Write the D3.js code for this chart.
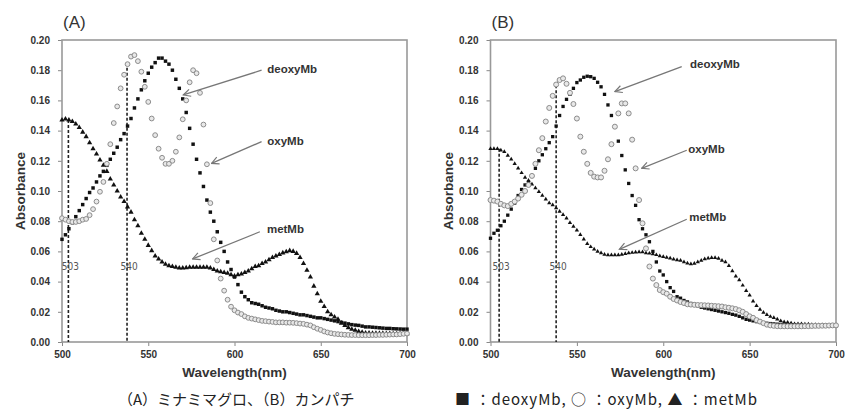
<!DOCTYPE html>
<html><head><meta charset="utf-8">
<script src="https://cdn.jsdelivr.net/npm/d3@7"></script>
<style>body{margin:0;background:#fff}svg{display:block}</style>
</head><body><svg id="c" width="845" height="416"></svg>
<script>
const wavelength = [500,502,504,506,508,510,512,514,516,518,520,522,524,526,528,530,532,534,536,538,
540,542,544,546,548,550,552,554,556,558,560,562,564,566,568,570,572,574,576,578,
580,582,584,586,588,590,592,594,596,598,600,602,604,606,608,610,612,614,616,618,
620,622,624,626,628,630,632,634,636,638,640,642,644,646,648,650,652,654,656,658,
660,662,664,666,668,670,672,674,676,678,680,682,684,686,688,690,692,694,696,698,700];

// Panel A (ミナミマグロ)
const deoxyA = [.068,.071,.075,.079,.083,.087,.091,.095,.099,.102,.106,.110,.113,.117,.121,.125,.129,.134,.138,.143,
.148,.155,.161,.167,.173,.178,.182,.185,.188,.188,.186,.184,.180,.174,.168,.161,.152,.1415,.131,.121,
.112,.103,.094,.086,.080,.073,.066,.060,.053,.048,.043,.038,.033,.030,.028,.026,.0255,.025,.024,.023,
.0225,.022,.021,.0205,.020,.020,.0195,.019,.0185,.018,.018,.0175,.017,.0165,.016,.016,.0155,.015,.0145,.014,
.0135,.013,.0125,.012,.0115,.0112,.011,.0105,.010,.010,.0098,.0096,.0094,.0092,.009,.009,.0088,.0087,.0086,.0085,.0085];
const oxyA = [.082,.081,.080,.0795,.0795,.080,.081,.0815,.084,.088,.093,.0995,.106,.118,.131,.145,.156,.168,.177,.184,
.189,.190,.186,.179,.169,.159,.148,.137,.128,.122,.118,.118,.120,.126,.1355,.1475,.160,.172,.180,.178,
.165,.144,.1177,.092,.068,.054,.042,.034,.028,.0234,.021,.0195,.0185,.017,.016,.0155,.015,.0145,.014,.0138,
.0135,.0133,.013,.013,.013,.0128,.0128,.0127,.0125,.0122,.012,.0115,.011,.0098,.0088,.008,.007,.0063,.0058,.0054,
.0052,.005,.0048,.0047,.0046,.0046,.0045,.0045,.0045,.0045,.0046,.0046,.0047,.0047,.0048,.0049,.005,.005,.0052,.0054,.0056];
const metA = [.147,.1477,.147,.146,.1444,.142,.139,.136,.132,.128,.1245,.1205,.117,.113,.108,.104,.100,.096,.093,.0895,
.086,.081,.077,.072,.068,.064,.0605,.057,.055,.053,.0515,.0505,.050,.0495,.049,.049,.0492,.0495,.0495,.0495,
.0495,.0495,.0495,.049,.048,.047,.0465,.046,.0455,.0445,.0437,.0445,.045,.046,.047,.0485,.050,.0505,.052,.053,
.0545,.056,.057,.058,.059,.0598,.0605,.060,.0587,.056,.052,.0475,.043,.037,.032,.027,.0235,.020,.018,.0165,
.015,.0125,.011,.0095,.0085,.0078,.007,.0065,.006,.006,.0058,.0058,.0057,.0057,.0056,.0056,.0055,.0055,.0055,.0055,.0055];

// Panel B (カンパチ)
const deoxyB = [.0687,.072,.074,.077,.080,.084,.088,.092,.097,.101,.104,.106,.110,.115,.120,.124,.128,.132,.136,.143,
.150,.156,.1607,.164,.168,.1718,.1735,.1753,.176,.1757,.1746,.172,.169,.164,.157,.150,.1426,.133,.1235,.114,
.105,.097,.0905,.081,.075,.071,.0664,.060,.053,.047,.0444,.040,.036,.0335,.030,.029,.0275,.0265,.0255,.025,
.024,.023,.0225,.022,.0215,.021,.0205,.020,.0195,.019,.0183,.0178,.017,.016,.015,.0145,.014,.0135,.013,.0127,
.0124,.0122,.012,.0118,.0117,.0115,.0115,.0113,.0113,.0112,.0112,.011,.011,.011,.0108,.0108,.0107,.0107,.0106,.0106,.0106];
const oxyB = [.094,.0936,.093,.0915,.0905,.090,.0915,.093,.095,.0975,.100,.104,.110,.118,.127,.135,.146,.155,.163,.1705,
.1735,.1746,.171,.165,.1576,.148,.136,.126,.118,.112,.1095,.109,.109,.1134,.121,.131,.1426,.1514,.158,.158,
.1514,.134,.115,.094,.0786,.062,.050,.042,.0377,.0344,.033,.032,.030,.0285,.0275,.0265,.0258,.025,.0248,.0246,
.0245,.0244,.0243,.0242,.024,.0238,.0237,.0235,.023,.0227,.0223,.0218,.021,.020,.0185,.017,.016,.0145,.0135,.0125,
.0115,.011,.0107,.0105,.0104,.0104,.0104,.0104,.0104,.0104,.0104,.0105,.0105,.0106,.0107,.0107,.0108,.0108,.0109,.011,.011];
const metB = [.128,.128,.128,.127,.126,.1235,.121,.118,.115,.112,.109,.107,.1045,.102,.0995,.097,.0945,.092,.0907,.0887,
.0865,.0843,.082,.079,.0765,.074,.071,.068,.065,.063,.0615,.060,.059,.058,.0576,.0576,.0576,.0576,.058,.0585,
.059,.0592,.0595,.0596,.0596,.059,.0587,.0583,.0577,.057,.0565,.056,.0555,.0548,.0543,.054,.053,.0522,.0517,.052,
.053,.054,.055,.0555,.0558,.0558,.0553,.054,.053,.0505,.047,.0435,.041,.0375,.034,.031,.027,.024,.0215,.0195,
.018,.0168,.016,.015,.014,.0132,.013,.0125,.012,.012,.012,.0118,.0117,.0115,.0114,.0113,.0112,.011,.0108,.0107,.0106];

const xTicks = [500,550,600,650,700];
const yTicks = [0,0.02,0.04,0.06,0.08,0.10,0.12,0.14,0.16,0.18,0.20];
const panelLabels = ["(A)","(B)"];
const seriesNames = ["deoxyMb","oxyMb","metMb"];
const refLabels = ["503","540"];
const refPosA = [503.7,537.7], refTopA = [0.147,0.185];
const refPosB = [505,538], refTopB = [0.128,0.170];
// annotation text position and arrow endpoints (data units)
const annotTextXA = [619,619,618.8], annotTextYA = [0.1808,0.133,0.0748];
const arrowFromA = [[615.7,0.180],[615.7,0.1327],[614.7,0.073]];
const arrowToA = [[570.3,0.1636],[586.7,0.1183],[575.7,0.055]];
const annotTextXB = [615.5,614.5,615], annotTextYB = [0.184,0.1276,0.0826];
const arrowFromB = [[610.7,0.1823],[613.6,0.127],[613.6,0.0813]];
const arrowToB = [[572,0.1658],[587.5,0.115],[574.6,0.0614]];
const xTitle = "Wavelength(nm)", yTitle = "Absorbance";
const captionLeft = "（A）ミナミマグロ、（B）カンパチ";
const captionRight = "■ ：deoxyMb, ○ ：oxyMb, ▲ ：metMb";

const svg = d3.select("#c");
const defs = svg.append("defs");
defs.append("marker").attr("id","arr").attr("viewBox","0 0 10 10").attr("refX",9).attr("refY",5)
  .attr("markerWidth",9).attr("markerHeight",9).attr("markerUnits","userSpaceOnUse").attr("orient","auto")
  .append("path").attr("d","M1,1 L9,5 L1,9").attr("fill","none").attr("stroke","#777").attr("stroke-width",1.3);

const panels = [
  {label:panelLabels[0], left:62, right:407, deoxy:deoxyA, oxy:oxyA, met:metA, refPos:refPosA, refTop:refTopA,
   tx:annotTextXA, ty:annotTextYA, af:arrowFromA, at:arrowToA, sq:12, tri:12, r:2.4, ytitleX:20},
  {label:panelLabels[1], left:490.5, right:836, deoxy:deoxyB, oxy:oxyB, met:metB, refPos:refPosB, refTop:refTopB,
   tx:annotTextXB, ty:annotTextYB, af:arrowFromB, at:arrowToB, sq:11, tri:8, r:2.5, ytitleX:448}
];
const plotTop = 40, plotBottom = 342;
const tickFont = "'Liberation Sans', Arial, sans-serif";

panels.forEach(p => {
  const x = d3.scaleLinear().domain([500,700]).range([p.left,p.right]);
  const y = d3.scaleLinear().domain([0,0.20]).range([plotBottom,plotTop]);
  const g = svg.append("g");

  const xa = g.append("g").attr("transform",`translate(0,${plotBottom})`)
    .call(d3.axisBottom(x).tickValues(xTicks).tickSize(4).tickPadding(5).tickFormat(d3.format("d")));
  const ya = g.append("g").attr("transform",`translate(${p.left},0)`)
    .call(d3.axisLeft(y).tickValues(yTicks).tickSize(4).tickPadding(8).tickFormat(d3.format(".2f")));
  [xa,ya].forEach(a => {
    a.select(".domain").remove();
    a.selectAll("line").attr("stroke","#888").attr("stroke-width",1);
    a.selectAll("text").attr("font-family",tickFont).attr("font-weight","bold").attr("font-size",10).attr("fill","#333");
  });
  g.append("rect").attr("x",p.left).attr("y",plotTop).attr("width",p.right-p.left).attr("height",plotBottom-plotTop)
    .attr("fill","none").attr("stroke","#999").attr("stroke-width",1.6);

  g.append("text").attr("x",(p.left+p.right)/2).attr("y",377).attr("text-anchor","middle")
    .attr("font-family",tickFont).attr("font-weight","bold").attr("font-size",13.5).attr("fill","#333").text(xTitle);
  g.append("text").attr("transform",`translate(${p.ytitleX},${(plotTop+plotBottom)/2}) rotate(-90)`).attr("text-anchor","middle")
    .attr("dy","0.35em").attr("font-family",tickFont).attr("font-weight","bold").attr("font-size",13.5).attr("fill","#333").text(yTitle);
  g.append("text").attr("x",p.left+1).attr("y",28).attr("font-family",tickFont)
    .attr("font-size",17).attr("fill","#333").text(p.label);

  p.refPos.forEach((w,i) => {
    g.append("line").attr("x1",x(w)).attr("x2",x(w)).attr("y1",y(p.refTop[i])).attr("y2",plotBottom)
      .attr("stroke","#222").attr("stroke-width",1.6).attr("stroke-dasharray","3,2");
    g.append("text").attr("x",x(w)+2).attr("y",270).attr("text-anchor","middle")
      .attr("font-family","'Liberation Sans Narrow','DejaVu Sans Condensed',sans-serif").attr("font-size",10)
      .attr("fill","#555").text(refLabels[i]);
  });

  const pts = arr => wavelength.map((w,i) => [w, arr[i]]);
  g.append("g").selectAll("path").data(pts(p.deoxy)).join("path")
    .attr("transform",d => `translate(${x(d[0])},${y(d[1])})`)
    .attr("d",d3.symbol(d3.symbolSquare,p.sq)).attr("fill","#111");
  g.append("g").selectAll("path").data(pts(p.met)).join("path")
    .attr("transform",d => `translate(${x(d[0])},${y(d[1])})`)
    .attr("d",d3.symbol(d3.symbolTriangle,p.tri)).attr("fill","#111");
  g.append("g").selectAll("circle").data(pts(p.oxy)).join("circle")
    .attr("cx",d => x(d[0])).attr("cy",d => y(d[1])).attr("r",p.r)
    .attr("fill","#e8e8e8").attr("stroke","#8c8c8c").attr("stroke-width",1);

  seriesNames.forEach((name,i) => {
    g.append("line").attr("x1",x(p.af[i][0])).attr("y1",y(p.af[i][1]))
      .attr("x2",x(p.at[i][0])).attr("y2",y(p.at[i][1]))
      .attr("stroke","#777").attr("stroke-width",1.3).attr("marker-end","url(#arr)");
    g.append("text").attr("x",x(p.tx[i])).attr("y",y(p.ty[i])).attr("dy","0.35em")
      .attr("font-family",tickFont).attr("font-weight","bold").attr("font-size",11.5).attr("fill","#333").text(name);
  });
});

const cap = svg.append("text").attr("y",405).attr("font-family","'Noto Sans CJK JP',sans-serif")
  .attr("font-size",15).attr("fill","#222");
cap.append("tspan").attr("x",118).text(captionLeft);
cap.append("tspan").attr("x",455).attr("textLength",302).attr("lengthAdjust","spacing").text(captionRight);
</script></body></html>
